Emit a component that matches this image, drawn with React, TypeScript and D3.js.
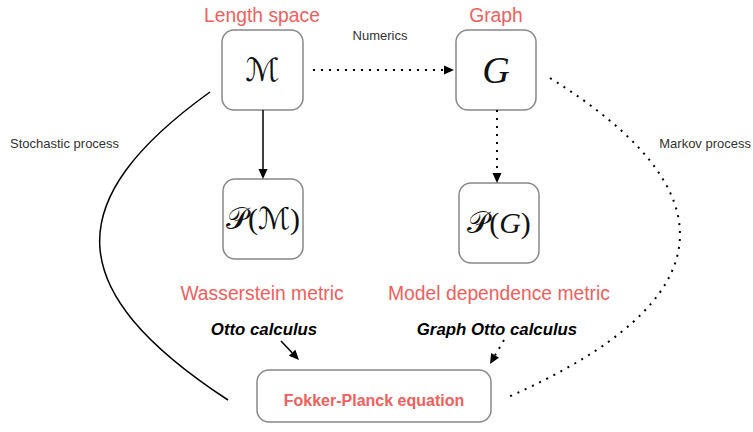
import React from "react"
import * as d3 from "d3"

// node boxes: [id, x, y, w, h]
const boxes: [string, number, number, number, number][] = [
	["M", 222, 30, 81, 80],
	["G", 456, 30, 80, 80],
	["PM", 223, 179, 80, 80],
	["PG", 459, 183, 80, 80],
	["FP", 257, 370, 234, 52],
]

// red titles: [text, cx, baseline]
const titles: [string, number, number][] = [
	["Length space", 262, 22],
	["Graph", 496, 22],
	["Wasserstein metric", 262, 300],
	["Model dependence metric", 499, 300],
]

// small grey captions: [text, x, y, anchor]
const captions: [string, number, number, string][] = [
	["Numerics", 380, 40, "middle"],
	["Stochastic process", 10, 148, "start"],
	["Markov process", 751, 148, "end"],
]

// bold italic labels: [text, cx, baseline]
const calculus: [string, number, number][] = [
	["Otto calculus", 264, 335],
	["Graph Otto calculus", 497, 335],
]

// straight edges: [x1, y1, x2, y2, dotted]
const edges: [number, number, number, number, boolean][] = [
	[313, 70, 454, 70, true],
	[263, 110, 263, 179, false],
	[497, 110, 497, 183, true],
	[281, 341, 299, 360, false],
	[504, 340, 490, 364, true],
]

// curved edges: four control points, dotted flag
const curves: [[number, number][], boolean][] = [
	[[[210, 92], [60, 200], [60, 290], [228, 400]], false],
	[[[550, 78], [730, 190], [730, 300], [506, 398]], true],
]

const red = "#f0605d"
const dash = "2,6"

function arrowHead(x1: number, y1: number, x2: number, y2: number) {
	const a = Math.atan2(y2 - y1, x2 - x1)
	const len = 10
	const half = 4.5
	const bx = x2 - len * Math.cos(a)
	const by = y2 - len * Math.sin(a)
	const p = d3.path()
	p.moveTo(x2, y2)
	p.lineTo(bx + half * Math.sin(a), by - half * Math.cos(a))
	p.lineTo(bx - half * Math.sin(a), by + half * Math.cos(a))
	p.closePath()
	return { d: p.toString(), bx, by }
}

export default function App() {
	const sans = "'Liberation Sans', Arial, sans-serif"
	const serif = "'Liberation Serif', 'DejaVu Serif', serif"
	const script = "'DejaVu Sans', sans-serif"
	const box = (id: string) => boxes.find((b) => b[0] === id)!

	const mathText = (id: string, s: React.ReactNode, size: number) => {
		const b = box(id)
		return (
			<text
				x={b[1] + b[3] / 2}
				y={b[2] + b[4] / 2 + size * 0.33}
				textAnchor="middle"
				fontFamily={serif}
				fontSize={size}
				fill="#111">
				{s}
			</text>
		)
	}

	return (
		<svg
			width={753}
			height={432}
			style={{ position: "absolute", left: 0, top: 0, background: "#fff" }}>
			{boxes.map(([id, x, y, w, h]) => (
				<rect
					key={id}
					x={x}
					y={y}
					width={w}
					height={h}
					rx={12}
					fill="#fff"
					stroke="#888"
					strokeWidth={1.5}
				/>
			))}

			{edges.map(([x1, y1, x2, y2, dotted], i) => {
				const h = arrowHead(x1, y1, x2, y2)
				return (
					<g key={i}>
						<line
							x1={x1}
							y1={y1}
							x2={h.bx}
							y2={h.by}
							stroke="#000"
							strokeWidth={dotted ? 2 : 1.5}
							strokeDasharray={dotted ? dash : undefined}
						/>
						<path d={h.d} fill="#000" />
					</g>
				)
			})}

			{curves.map(([pts, dotted], i) => {
				const p = d3.path()
				p.moveTo(pts[0][0], pts[0][1])
				p.bezierCurveTo(
					pts[1][0],
					pts[1][1],
					pts[2][0],
					pts[2][1],
					pts[3][0],
					pts[3][1]
				)
				return (
					<path
						key={i}
						d={p.toString()}
						fill="none"
						stroke="#000"
						strokeWidth={dotted ? 2 : 1.5}
						strokeDasharray={dotted ? dash : undefined}
					/>
				)
			})}

			{titles.map(([t, x, y]) => (
				<text
					key={t}
					x={x}
					y={y}
					textAnchor="middle"
					fontFamily={sans}
					fontSize={19.3}
					fill={red}>
					{t}
				</text>
			))}

			{captions.map(([t, x, y, a]) => (
				<text
					key={t}
					x={x}
					y={y}
					textAnchor={a as any}
					fontFamily={sans}
					fontSize={13}
					fill="#333">
					{t}
				</text>
			))}

			{calculus.map(([t, x, y]) => (
				<text
					key={t}
					x={x}
					y={y}
					textAnchor="middle"
					fontFamily={sans}
					fontSize={16.8}
					fontWeight="bold"
					fontStyle="italic"
					fill="#000">
					{t}
				</text>
			))}

			<text
				x={374}
				y={406}
				textAnchor="middle"
				fontFamily={sans}
				fontSize={16}
				fontWeight="bold"
				fill={red}>
				Fokker-Planck equation
			</text>

			{mathText("M", <tspan fontFamily={script}>ℳ</tspan>, 32)}
			{mathText("G", <tspan fontStyle="italic">G</tspan>, 38)}
			{mathText(
				"PM",
				<>
					<tspan fontFamily={script}>𝒫</tspan>(
					<tspan fontFamily={script}>ℳ</tspan>)
				</>,
				30
			)}
			{mathText(
				"PG",
				<>
					<tspan fontFamily={script}>𝒫</tspan>(
					<tspan fontStyle="italic">G</tspan>)
				</>,
				30
			)}
		</svg>
	)
}
